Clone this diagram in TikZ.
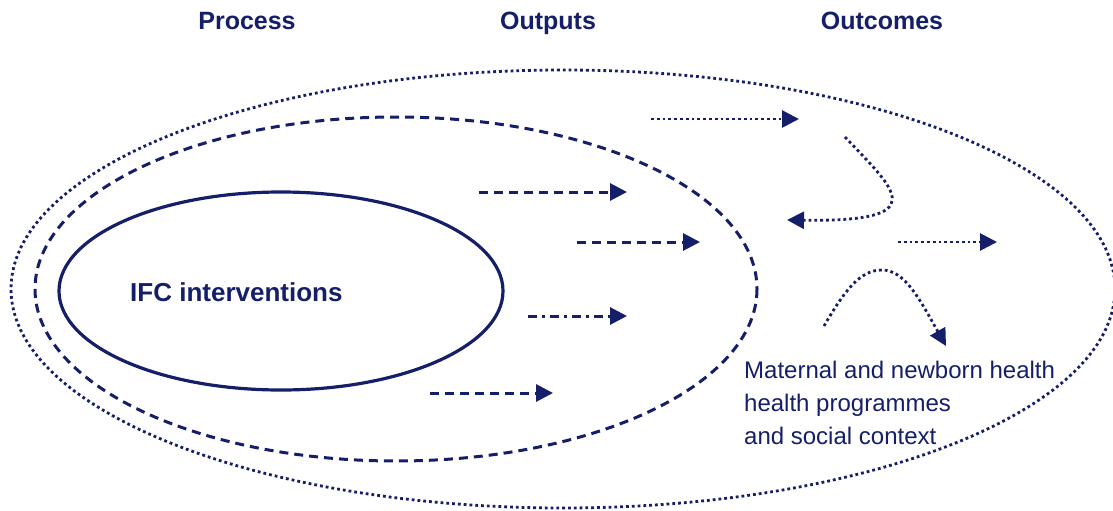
\documentclass[tikz,border=0pt]{standalone}
\usepackage{fontspec}
\setmainfont{Liberation Sans}
\usetikzlibrary{arrows.meta}
\definecolor{navy}{RGB}{20,30,105}
\tikzset{
  head/.style={font=\bfseries\fontsize{25}{30}\selectfont, text=navy, anchor=base, inner sep=0pt},
  body/.style={font=\fontsize{24}{33}\selectfont, text=navy, anchor=base west, inner sep=0pt},
  dsh/.style={draw=navy, line width=3pt, dash pattern=on 9pt off 6pt},
  dshdot/.style={draw=navy, line width=3pt, dash pattern=on 9pt off 5pt on 3pt off 5pt},
  dts/.style={draw=navy, line width=2.8pt, dash pattern=on 2.8pt off 3pt},
  arr/.style={-{Triangle[length=17pt,width=17pt]}},
}
\begin{document}
\begin{tikzpicture}[x=1pt,y=-1pt]
\useasboundingbox (0,0) rectangle (1113,511);
% ellipses
\draw[dts] (563,289) ellipse [x radius=552, y radius=219];
\draw[dsh] (396,289) ellipse [x radius=361, y radius=172];
\draw[navy, line width=3.2pt] (281,291) ellipse [x radius=222, y radius=99];
% headings
\node[head] (process) at (247,30) {Process};
\node[head] (outputs) at (548,30) {Outputs};
\node[head] (outcomes) at (882,30) {Outcomes};
\node[head, font=\bfseries\fontsize{26}{30}\selectfont, anchor=base west] (ifc) at (130,301) {IFC interventions};
\node[body] (l1) at (744,378) {Maternal and newborn health};
\node[body] (l2) at (744,411) {health programmes};
\node[body] (l3) at (744,444) {and social context};
% arrow coordinates
\coordinate (a1s) at (479,192); \coordinate (a1e) at (627,192);
\coordinate (a2s) at (577,242); \coordinate (a2e) at (700,242);
\coordinate (a3s) at (528,316); \coordinate (a3e) at (627,316);
\coordinate (a4s) at (430,393); \coordinate (a4e) at (553,393);
\coordinate (b1s) at (651,119); \coordinate (b1e) at (799,119);
\coordinate (b2s) at (845,137); \coordinate (b2e) at (787,220);
\coordinate (b3s) at (898,242); \coordinate (b3e) at (997,242);
\coordinate (b4s) at (824,326); \coordinate (b4p) at (882,270); \coordinate (b4e) at (946,346);
% arrows
\draw[dsh, arr] (a1s) -- (a1e);
\draw[dsh, arr] (a2s) -- (a2e);
\draw[dshdot, arr] (a3s) -- (a3e);
\draw[dsh, arr] (a4s) -- (a4e);
\draw[dts, arr] (b1s) -- (b1e);
\draw[dts, arr] (b2s) .. controls (895,190) and (935,222) .. (b2e);
\draw[dts, arr] (b3s) -- (b3e);
\draw[dts, arr] (b4s) .. controls (845,290) and (860,270) .. (b4p) .. controls (905,270) and (920,300) .. (b4e);
\end{tikzpicture}
\end{document}
